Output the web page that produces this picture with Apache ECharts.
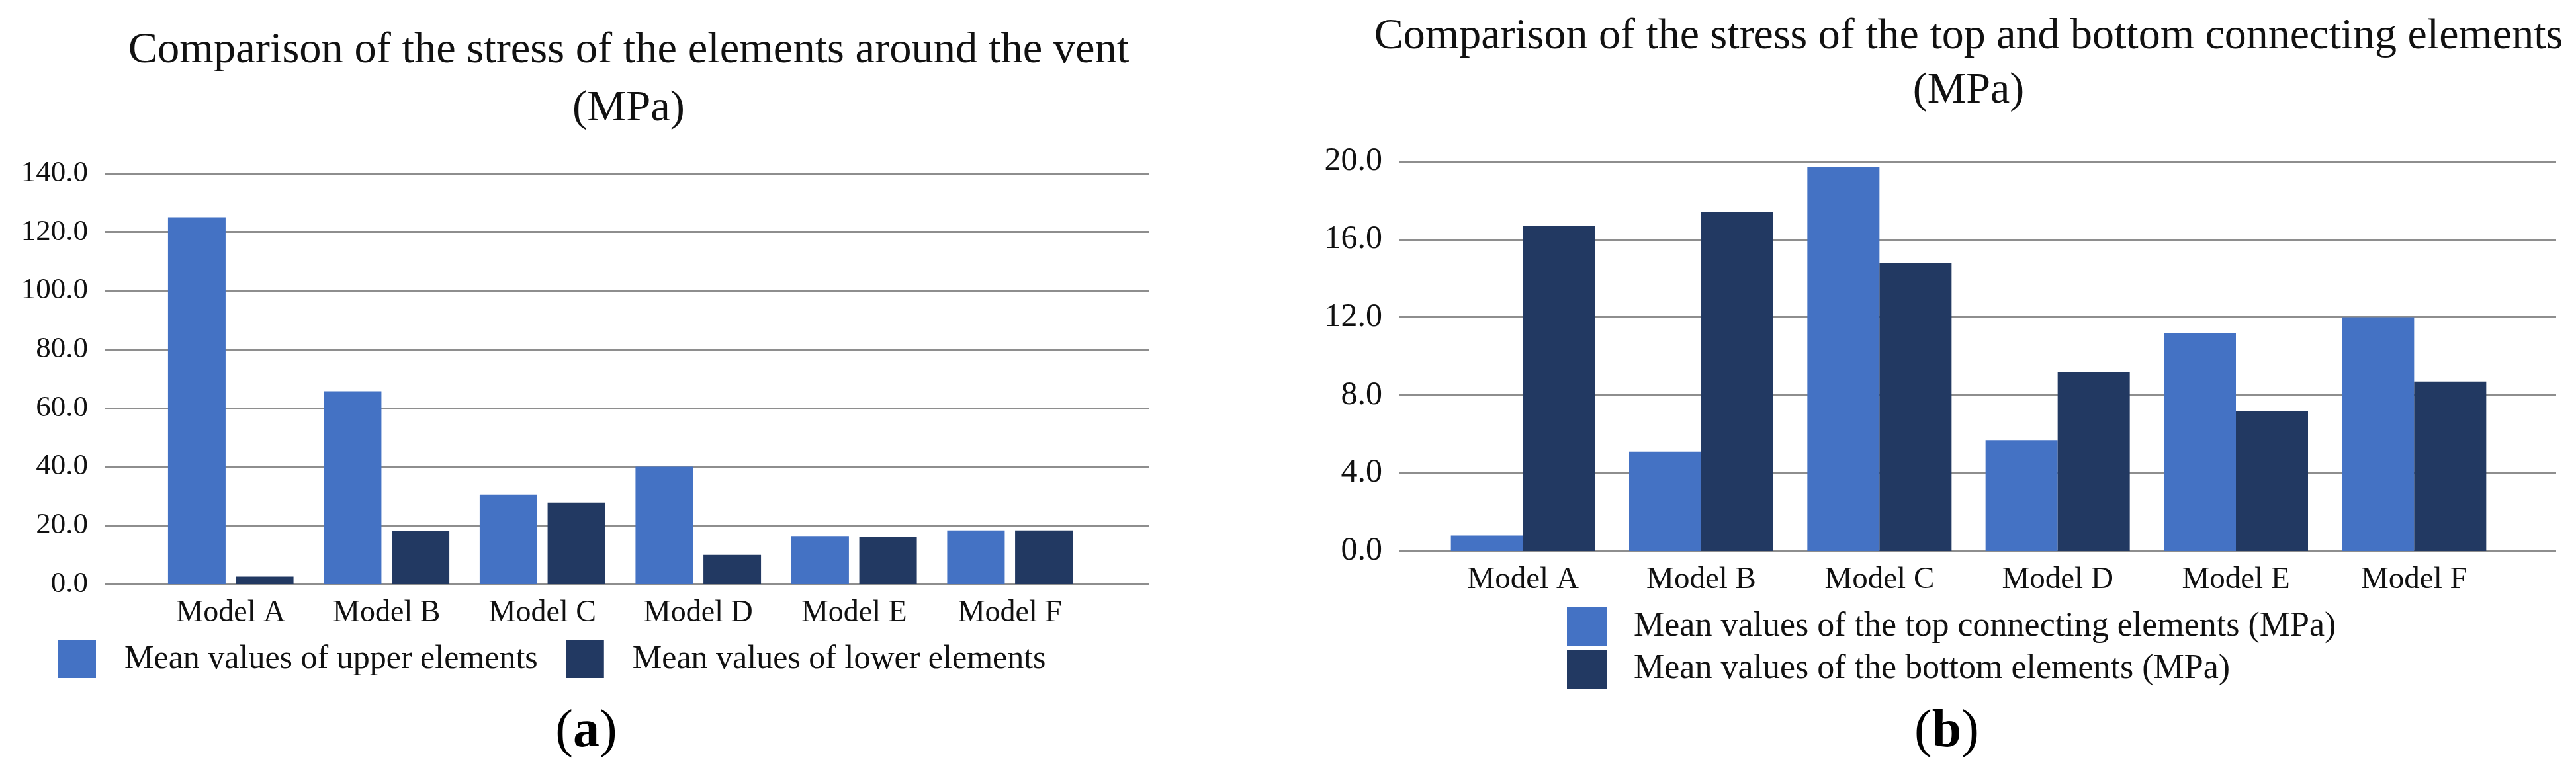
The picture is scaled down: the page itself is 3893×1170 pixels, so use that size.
<!DOCTYPE html>
<html>
<head>
<meta charset="utf-8">
<script src="https://cdn.jsdelivr.net/npm/echarts@6/dist/echarts.min.js"></script>
<style>
html,body{margin:0;padding:0;background:#fff;}
#c{width:3893px;height:1170px;}
</style>
</head>
<body>
<div id="c"></div>
<script>
// ---- data ----
const categories = ['Model A', 'Model B', 'Model C', 'Model D', 'Model E', 'Model F'];
const leftTitle = 'Comparison of the stress of the elements around the vent\n(MPa)';
const rightTitle = 'Comparison of the stress of the top and bottom connecting elements\n(MPa)';
const upperNames = ['Mean values of upper elements', 'Mean values of lower elements'];
const upperValues = [125.0, 65.7, 30.5, 40.0, 16.4, 18.3];
const lowerValues = [2.6, 18.2, 27.8, 10.0, 16.1, 18.3];
const connNames = ['Mean values of the top connecting elements (MPa)', 'Mean values of the bottom elements (MPa)'];
const topValues = [0.8, 5.1, 19.7, 5.7, 11.2, 12.0];
const bottomValues = [16.7, 17.4, 14.8, 9.2, 7.2, 8.7];
const leftTicks = {min: 0, max: 140, interval: 20};
const rightTicks = {min: 0, max: 20, interval: 4};

const FONT = '"Liberation Serif", "Times New Roman", serif';
const BLUE = '#4472C4';
const NAVY = '#223962';
const GRID = '#8e8e8e';

const chart = echarts.init(document.getElementById('c'));

function gridAxis(idx, t, fs) {
  return {
    type: 'value', gridIndex: idx, min: t.min, max: t.max, interval: t.interval,
    axisLine: {show: false}, axisTick: {show: false},
    axisLabel: {show: true, margin: 26, fontFamily: FONT, fontSize: fs, color: '#111',
      formatter: v => v.toFixed(1)},
    splitLine: {show: true, lineStyle: {color: GRID, width: 3}}
  };
}
function barYAxis(idx, t) {
  return {
    type: 'value', gridIndex: idx, min: t.min, max: t.max, interval: t.interval,
    axisLine: {show: false}, axisTick: {show: false}, axisLabel: {show: false},
    splitLine: {show: false}
  };
}
function panelLabel(letter, x) {
  return {
    text: '{p|(}{b|' + letter + '}{p|)}', left: x, top: 1062, textAlign: 'center',
    textStyle: {fontWeight: 'normal', fontFamily: FONT, fontSize: 80,
      rich: {p: {fontFamily: FONT, fontSize: 80, fontWeight: 'normal', color: '#000'},
             b: {fontFamily: FONT, fontSize: 80, fontWeight: 'bold', color: '#000'}}}
  };
}

const option = {
  backgroundColor: '#fff',
  animation: false,
  title: [
    {text: leftTitle, left: 945, top: 28, textAlign: 'center',
     textStyle: {fontFamily: FONT, fontSize: 66.5, fontWeight: 'normal', color: '#111', lineHeight: 88}},
    {text: rightTitle, left: 2970, top: 10, textAlign: 'center',
     textStyle: {fontFamily: FONT, fontSize: 66, fontWeight: 'normal', color: '#111', lineHeight: 82}},
    panelLabel('a', 881),
    panelLabel('b', 2937)
  ],
  legend: [
    {data: upperNames, orient: 'horizontal', left: 83, top: 963,
     itemWidth: 57, itemHeight: 57, itemGap: 43, icon: 'rect',
     textStyle: {fontFamily: FONT, fontSize: 50, color: '#111', padding: [0, 0, 0, 38]}},
    {data: connNames, orient: 'vertical', left: 2363, top: 913,
     itemWidth: 60, itemHeight: 59, itemGap: 5, icon: 'rect',
     textStyle: {fontFamily: FONT, fontSize: 52, color: '#111', padding: [0, 0, 0, 36]}}
  ],
  grid: [
    {left: 159, width: 1578, top: 262, height: 621},
    {left: 231, width: 1413, top: 262, height: 621},
    {left: 2115, width: 1748, top: 244, height: 589},
    {left: 2167, width: 1616, top: 244, height: 589}
  ],
  xAxis: [
    {type: 'category', gridIndex: 0, data: categories, show: false},
    {type: 'category', gridIndex: 1, data: categories,
     axisLine: {show: false}, axisTick: {show: false},
     axisLabel: {margin: 21, fontFamily: FONT, fontSize: 46, color: '#111', lineHeight: 46}},
    {type: 'category', gridIndex: 2, data: categories, show: false},
    {type: 'category', gridIndex: 3, data: categories,
     axisLine: {show: false}, axisTick: {show: false},
     axisLabel: {margin: 20, fontFamily: FONT, fontSize: 47, color: '#111', lineHeight: 47}}
  ],
  yAxis: [
    gridAxis(0, leftTicks, 45),
    barYAxis(1, leftTicks),
    gridAxis(2, rightTicks, 50),
    barYAxis(3, rightTicks)
  ],
  series: [
    {name: upperNames[0], type: 'bar', xAxisIndex: 1, yAxisIndex: 1, data: upperValues,
     barWidth: 87, barGap: '18%', itemStyle: {color: BLUE}},
    {name: upperNames[1], type: 'bar', xAxisIndex: 1, yAxisIndex: 1, data: lowerValues,
     barWidth: 87, barGap: '18%', itemStyle: {color: NAVY}},
    {name: connNames[0], type: 'bar', xAxisIndex: 3, yAxisIndex: 3, data: topValues,
     barWidth: 109, barGap: '0%', itemStyle: {color: BLUE}},
    {name: connNames[1], type: 'bar', xAxisIndex: 3, yAxisIndex: 3, data: bottomValues,
     barWidth: 109, barGap: '0%', itemStyle: {color: NAVY}}
  ]
};
chart.setOption(option);
</script>
</body>
</html>
